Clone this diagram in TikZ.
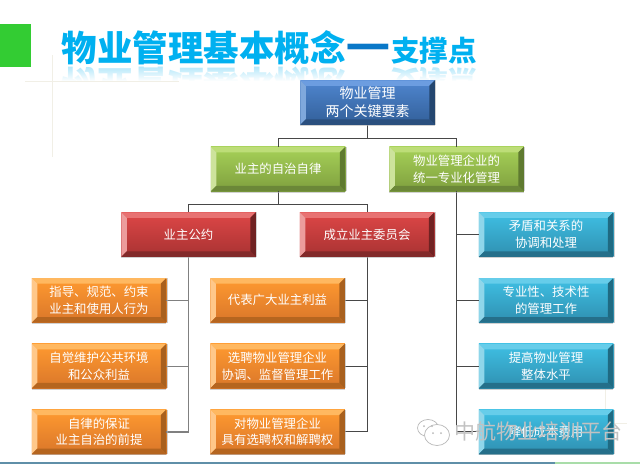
\documentclass[tikz,border=0pt]{standalone}
\usepackage{fontspec}
\usepackage{graphicx}
\setmainfont{Noto Sans CJK SC}
\usetikzlibrary{positioning,calc,fadings}
\definecolor{TitleBlue}{HTML}{00B0F0}
\definecolor{DashBlue}{HTML}{0A78C8}
\definecolor{RootHi}{HTML}{4F86CF}\definecolor{RootLo}{HTML}{325F99}
\definecolor{RootTop}{HTML}{6C9DE0}\definecolor{RootLeft}{HTML}{7FA8DC}
\definecolor{RootRight}{HTML}{24466F}\definecolor{RootBot}{HTML}{2A4F7E}
\definecolor{OwnerHi}{HTML}{A6D158}\definecolor{OwnerLo}{HTML}{7F9F3E}
\definecolor{OwnerTop}{HTML}{BDDD78}\definecolor{OwnerLeft}{HTML}{CDE39C}
\definecolor{OwnerRight}{HTML}{5F7A30}\definecolor{OwnerBot}{HTML}{6B8738}
\definecolor{PactHi}{HTML}{DE4747}\definecolor{PactLo}{HTML}{A83232}
\definecolor{PactTop}{HTML}{E87272}\definecolor{PactLeft}{HTML}{EC9C9C}
\definecolor{PactRight}{HTML}{702222}\definecolor{PactBot}{HTML}{822A2A}
\definecolor{ItemHi}{HTML}{FF9A30}\definecolor{ItemLo}{HTML}{D9762A}
\definecolor{ItemTop}{HTML}{FFB860}\definecolor{ItemLeft}{HTML}{FFC88A}
\definecolor{ItemRight}{HTML}{A8601E}\definecolor{ItemBot}{HTML}{B5651F}
\definecolor{TaskHi}{HTML}{3FC0E4}\definecolor{TaskLo}{HTML}{2F8FB0}
\definecolor{TaskTop}{HTML}{66CDEA}\definecolor{TaskLeft}{HTML}{8FD6EA}
\definecolor{TaskRight}{HTML}{1F6A82}\definecolor{TaskBot}{HTML}{256F8A}
\definecolor{MarkGreen}{HTML}{33CC33}
\definecolor{StripBlue}{HTML}{5F8FA8}
\definecolor{StripGreen}{HTML}{A9DDA9}
\definecolor{FaintLine}{HTML}{F1EFE6}
\newcommand{\titletext}[1]{\fontsize{35.5}{35.5}\selectfont\bfseries 物业管理基本概念{\color{#1}\fontsize{50}{50}\selectfont —}\fontsize{28.5}{28.5}\selectfont 支撑点}
\begin{document}
\begin{tikzpicture}[
      x=1pt, y=-1pt,
      bevel/.style={rectangle, minimum width=134.5pt, minimum height=44.5pt,
                    inner sep=0pt, outer sep=0pt, align=center, text=white,
                    top color=#1Hi, bottom color=#1Lo,
                    font=\fontsize{12.4}{16.5}\selectfont,
                    path picture={
                      \coordinate (pnw) at (path picture bounding box.north west);
                      \coordinate (pne) at (path picture bounding box.north east);
                      \coordinate (psw) at (path picture bounding box.south west);
                      \coordinate (pse) at (path picture bounding box.south east);
                      \coordinate (inw) at ($(pnw)+(5.5pt,-5.5pt)$);
                      \coordinate (ine) at ($(pne)+(-5.5pt,-5.5pt)$);
                      \coordinate (isw) at ($(psw)+(5.5pt,5.5pt)$);
                      \coordinate (ise) at ($(pse)+(-5.5pt,5.5pt)$);
                      \fill[#1Top] (pnw)--(pne)--(ine)--(inw)--cycle;
                      \fill[#1Left] (pnw)--(psw)--(isw)--(inw)--cycle;
                      \fill[#1Right] (pne)--(pse)--(ise)--(ine)--cycle;
                      \fill[#1Bot] (psw)--(pse)--(ise)--(isw)--cycle;
                    }},
      rootbox/.style={bevel=Root, font=\fontsize{14}{18.3}\selectfont},
      ownerbox/.style={bevel=Owner},
      pactbox/.style={bevel=Pact},
      itembox/.style={bevel=Item},
      taskbox/.style={bevel=Task},
      conn/.style={draw=black!72, line width=.9pt},
      faint/.style={draw=FaintLine, line width=.6pt},
      node distance=21.3pt,
    ]
      \useasboundingbox (0,0) rectangle (640,464);
      \node[anchor=base west, text=TitleBlue!30!white] (mirror) at (58,70.5)
            {\scalebox{1}[-1]{\titletext{TitleBlue!30!white}}};
      \fill[white, path fading=north] (55,81) rectangle (485,66);
      \fill[white] (55,81) rectangle (485,112);
      \draw[faint] (52,55)--(52,157) (25,81)--(179,81);
      \draw[faint] (605,389)--(605,423) (530,423)--(627,423);
      \fill[MarkGreen] (0,24) rectangle (31,67);
      \fill[StripBlue] (0,462.4) rectangle (555,464);
      \fill[StripGreen] (555,462.4) rectangle (640,464);

      \node[anchor=base west, text=TitleBlue] (title) at (58,61.5)
            {\titletext{DashBlue}};

      \node[rootbox] (root) at (367.5,102.5) {物业管理\\两个关键要素};
      \node[ownerbox, below=22pt of root, xshift=-89.5pt] (self) {业主的自治自律};
      \node[ownerbox, right=44pt of self] (firm) {物业管理企业的\\统一专业化管理};
      \node[pactbox, below=21pt of self, xshift=-89.5pt] (pact) {业主公约};
      \node[pactbox, right=44pt of pact] (board) {成立业主委员会};
      \node[itembox, below=of pact, xshift=-89.5pt] (guide) {指导、规范、约束\\业主和使用人行为};
      \node[itembox, below=of guide] (care) {自觉维护公共环境\\和公众利益};
      \node[itembox, below=of care] (basis) {自律的保证\\业主自治的前提};
      \node[itembox, right=44pt of guide] (voice) {代表广大业主利益};
      \node[itembox, below=of voice] (hire) {选聘物业管理企业\\协调、监督管理工作};
      \node[itembox, below=of hire] (right) {对物业管理企业\\具有选聘权和解聘权};
      \node[taskbox, below=21pt of firm, xshift=89.5pt] (solve) {矛盾和关系的\\协调和处理};
      \node[taskbox, below=of solve] (skill) {专业性、技术性\\的管理工作};
      \node[taskbox, below=of skill] (level) {提高物业管理\\整体水平};
      \node[taskbox, below=of level] (cost) {降低成本费用};

      \coordinate (topbus) at (root.south |- 0,138);
      \coordinate (midbus) at (self.south |- 0,204);
      \draw[conn] (root.south)--(topbus) (topbus) -| (self.north) (topbus) -| (firm.north);
      \draw[conn] (self.south)--(midbus) (midbus) -| (pact.north) (midbus) -| (board.north);
      \draw[conn, draw=black!50, line width=1.2pt] (pact.south) |- (basis.east);
      \draw[conn, draw=black!50] (pact.south |- guide.east)--(guide.east)
            (pact.south |- care.east)--(care.east);
      \draw[conn] (board.south) |- (right.east);
      \draw[conn] (board.south |- voice.east)--(voice.east)
            (board.south |- hire.east)--(hire.east);
      \draw[conn] (firm.south) |- (cost.west);
      \draw[conn] (firm.south |- solve.west)--(solve.west)
            (firm.south |- skill.west)--(skill.west)
            (firm.south |- level.west)--(level.west);

      \foreach \b in {root,self,firm,pact,board,guide,care,basis,voice,hire,right,solve,skill,level,cost}
        \draw[black!30, line width=.7pt, opacity=.6] ([yshift=-.6pt]\b.south west)--([yshift=-.6pt]\b.south east)
              ([xshift=.6pt]\b.north east)--([xshift=.6pt]\b.south east);

      \node[anchor=west, text=black!24, font=\fontsize{21}{21}\selectfont] (mark) at (451,431)
            {中航物业培训平台};
      \draw[black!28, fill=white, line width=.7pt] (428,428) ellipse (10.5 and 8.5);
      \draw[black!28, fill=white, line width=.7pt] (437,435) ellipse (12.5 and 10.5);
      \fill[black!28] (424,426) circle (1) (432,426) circle (1) (433,433) circle (1) (441,433) circle (1);
\end{tikzpicture}
\end{document}
